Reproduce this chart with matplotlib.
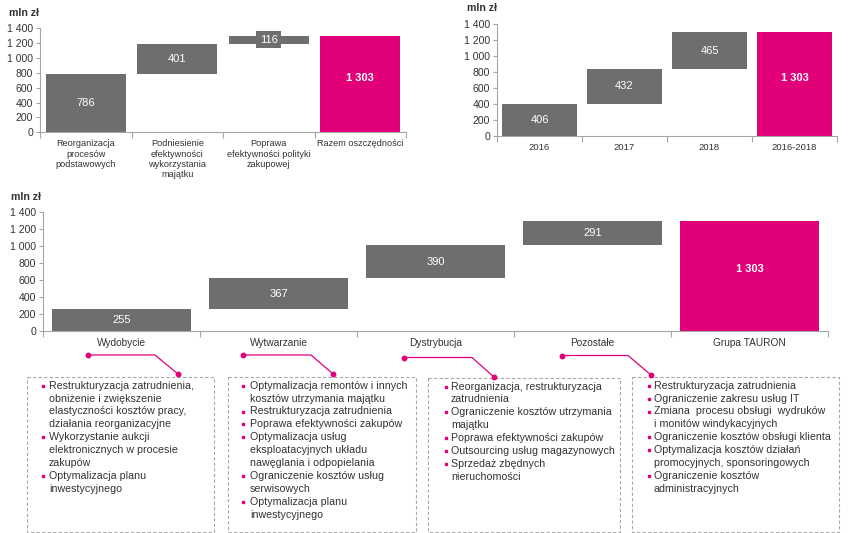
import numpy as np
import matplotlib
matplotlib.use('Agg')
import matplotlib.pyplot as plt
from matplotlib.patches import Rectangle

plt.rcParams['font.family'] = ['Liberation Sans', 'DejaVu Sans']

# Dane - wykres 1 (obszary)
kat1 = ['Reorganizacja\nprocesów\npodstawowych', 'Podniesienie\nefektywności\nwykorzystania\nmajątku',
        'Poprawa\nefektywności polityki\nzakupowej', 'Razem oszczędności']
wart1 = [786, 401, 116]
suma1 = 1303

# Dane - wykres 2 (lata)
kat2 = ['2016', '2017', '2018', '2016-2018']
wart2 = [406, 432, 465]
suma2 = 1303

# Dane - wykres 3 (segmenty)
kat3 = ['Wydobycie', 'Wytwarzanie', 'Dystrybucja', 'Pozostałe', 'Grupa TAURON']
wart3 = [255, 367, 390, 291]
suma3 = 1303

yticks = [0, 200, 400, 600, 800, 1000, 1200, 1400]

punkty_wydobycie = [["Restrukturyzacja zatrudnienia,", "obniżenie i zwiększenie",
                     "elastyczności kosztów pracy,", "działania reorganizacyjne"],
                    ["Wykorzystanie aukcji", "elektronicznych w procesie", "zakupów"],
                    ["Optymalizacja planu", "inwestycyjnego"]]
punkty_wytwarzanie = [["Optymalizacja remontów i innych", "kosztów utrzymania majątku"],
                      ["Restrukturyzacja zatrudnienia"],
                      ["Poprawa efektywności zakupów"],
                      ["Optymalizacja usług", "eksploatacyjnych układu", "nawęglania i odpopielania"],
                      ["Ograniczenie kosztów usług", "serwisowych"],
                      ["Optymalizacja planu", "inwestycyjnego"]]
punkty_dystrybucja = [["Reorganizacja, restrukturyzacja", "zatrudnienia"],
                      ["Ograniczenie kosztów utrzymania", "majątku"],
                      ["Poprawa efektywności zakupów"],
                      ["Outsourcing usług magazynowych"],
                      ["Sprzedaż zbędnych", "nieruchomości"]]
punkty_pozostale = [["Restrukturyzacja zatrudnienia"],
                    ["Ograniczenie zakresu usług IT"],
                    ["Zmiana  procesu obsługi  wydruków", "i monitów windykacyjnych"],
                    ["Ograniczenie kosztów obsługi klienta"],
                    ["Optymalizacja kosztów działań", "promocyjnych, sponsoringowych"],
                    ["Ograniczenie kosztów", "administracyjnych"]]

SZARY = '#6e6e6e'
MAGENTA = '#e2007a'
OS = '#a6a6a6'
TEKST = '#333333'

W, H = 849, 533
fig = plt.figure(figsize=(W / 100, H / 100), dpi=100)


def rect(l, t, r, b):
    return [l / W, 1 - b / H, (r - l) / W, (b - t) / H]


def fmt(v):
    return f"{v:,.0f}".replace(",", " ")


def waterfall(ax, wart, suma, kat, szer, fs_kat, fs_val, jednostka_xy):
    n = len(wart) + 1
    x = np.arange(n)
    dol = np.concatenate([[0], np.cumsum(wart)[:-1], [0]])
    wys = list(wart) + [suma]
    kol = [SZARY] * len(wart) + [MAGENTA]
    ax.bar(x, wys, bottom=dol, width=szer, color=kol, zorder=2)
    for i in range(n):
        if i < len(wart):
            ax.text(x[i], dol[i] + wys[i] / 2, fmt(wys[i]), ha='center', va='center',
                    color='white', fontsize=fs_val,
                    bbox=dict(facecolor=SZARY, edgecolor='none', pad=2.5), zorder=3)
        else:
            ax.text(x[i], wys[i] * 0.56, fmt(wys[i]), ha='center', va='center',
                    color='white', fontsize=fs_val, fontweight='bold', zorder=3)
    ax.set_xlim(-0.5, n - 0.5)
    ax.set_ylim(0, 1400)
    ax.set_yticks(yticks)
    ax.set_yticklabels([fmt(v) for v in yticks], fontsize=7.6, color=TEKST)
    ax.set_xticks(x)
    ax.set_xticklabels(kat, fontsize=fs_kat, color=TEKST, linespacing=1.2, va='top')
    ax.set_xticks(np.arange(n + 1) - 0.5, minor=True)
    ax.tick_params(axis='x', which='major', length=0, pad=5)
    ax.tick_params(axis='x', which='minor', length=4, color=OS, width=0.8)
    ax.tick_params(axis='y', length=3, color=OS, width=0.8, pad=2)
    for s in ['top', 'right']:
        ax.spines[s].set_visible(False)
    for s in ['left', 'bottom']:
        ax.spines[s].set_color(OS)
        ax.spines[s].set_linewidth(0.8)
    fig.text(jednostka_xy[0] / W, 1 - jednostka_xy[1] / H, 'mln zł', fontsize=7.6,
             fontweight='bold', color=TEKST, ha='left', va='center')


ax1 = fig.add_axes(rect(40, 28.3, 406, 132.3))
waterfall(ax1, wart1, suma1, kat1, 0.87, 6.6, 8, (9, 13))
ax2 = fig.add_axes(rect(497, 24.3, 837, 136))
waterfall(ax2, wart2, suma2, kat2, 0.88, 6.8, 8, (467, 8))
ax3 = fig.add_axes(rect(43, 212.3, 828, 330.7))
waterfall(ax3, wart3, suma3, kat3, 0.88, 7.3, 8, (11, 197))

# Warstwa z ramkami i łącznikami (współrzędne w pikselach)
ov = fig.add_axes([0, 0, 1, 1])
ov.set_xlim(0, W)
ov.set_ylim(H, 0)
ov.axis('off')

ramki = [(27, 377, 214, 532, 43, 49, 385.7, punkty_wydobycie),
         (228, 377, 416, 532, 243, 250, 385.7, punkty_wytwarzanie),
         (428, 378, 620, 532, 446, 451, 386.5, punkty_dystrybucja),
         (632, 377, 839, 532, 649, 654, 385.7, punkty_pozostale)]
for l, t, r, b, bx, tx, y0, punkty in ramki:
    ov.add_patch(Rectangle((l, t), r - l, b - t, fill=False, edgecolor='#a8a8a8',
                           linewidth=0.8, linestyle=(0, (3, 2))))
    k = 0
    for punkt in punkty:
        for j, linia in enumerate(punkt):
            y = y0 + k * 12.9
            if j == 0:
                ov.plot(bx, y, marker='s', markersize=1.8, color=MAGENTA, linestyle='none')
            ov.text(tx, y, linia, fontsize=7.7, color=TEKST, ha='left', va='center')
            k += 1

laczniki = [[(88, 355), (155, 355), (178, 374)],
            [(243, 355), (311, 355), (333, 374)],
            [(404, 357.5), (472, 357.5), (494, 377)],
            [(562, 355.5), (628, 355.5), (651, 375)]]
for pts in laczniki:
    xs = [p[0] for p in pts]
    ys = [p[1] for p in pts]
    ov.plot(xs, ys, color=MAGENTA, linewidth=0.9)
    ov.plot([xs[0], xs[-1]], [ys[0], ys[-1]], marker='o', markersize=3.2, color=MAGENTA,
            linestyle='none')

fig.savefig('out.png', dpi=100)
